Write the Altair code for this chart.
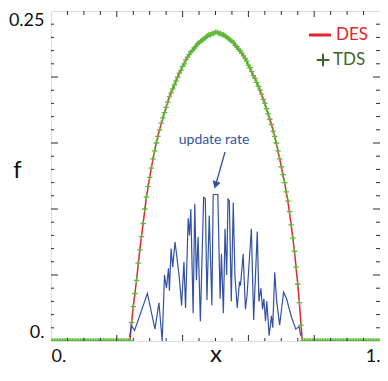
import altair as alt
import pandas as pd

# ---------------- data ----------------
# TDS markers on a regular 0.005 grid, x = 0 .. 1
TDS_X = [round(i * 0.005, 3) for i in range(201)]
TDS_LEFT = [0.0, 0.0, 0.0, 0.0, 0.0, 0.0, 0.0, 0.0, 0.0, 0.0, 0.0, 0.0,
            0.0, 0.0, 0.0, 0.0, 0.0, 0.0, 0.0, 0.0, 0.0, 0.0, 0.0, 0.0,
            0.0, 0.0, 0.0, 0.0, 0.0, 0.0, 0.0, 0.0, 0.0, 0.0, 0.0, 0.0,
            0.0, 0.0, 0.0, 0.0, 0.0, 0.0, 0.0, 0.0, 0.0, 0.0, 0.0, 0.0]
TDS_HUMP = [0.000, 0.014, 0.026, 0.036, 0.046, 0.059, 0.069, 0.079, 0.089, 0.100,
            0.109, 0.117, 0.124, 0.131, 0.138, 0.144, 0.150, 0.155, 0.160, 0.165,
            0.169, 0.173, 0.177, 0.181, 0.185, 0.188, 0.191, 0.194, 0.197, 0.200,
            0.203, 0.205, 0.208, 0.210, 0.213, 0.215, 0.217, 0.219, 0.220, 0.222,
            0.223, 0.225, 0.226, 0.227, 0.228, 0.229, 0.230, 0.231, 0.232, 0.232,
            0.233, 0.233, 0.234, 0.234, 0.233, 0.233, 0.232, 0.232, 0.231, 0.230,
            0.229, 0.228, 0.227, 0.226, 0.224, 0.223, 0.221, 0.220, 0.218, 0.216,
            0.214, 0.212, 0.209, 0.207, 0.204, 0.201, 0.199, 0.196, 0.193, 0.190,
            0.187, 0.183, 0.180, 0.176, 0.172, 0.168, 0.164, 0.159, 0.155, 0.150,
            0.144, 0.138, 0.132, 0.126, 0.120, 0.113, 0.106, 0.098, 0.088, 0.078,
            0.068, 0.056, 0.043, 0.029, 0.012, 0.000]
TDS_RIGHT = [0.0, 0.0, 0.0, 0.0, 0.0, 0.0, 0.0, 0.0, 0.0, 0.0, 0.0, 0.0,
             0.0, 0.0, 0.0, 0.0, 0.0, 0.0, 0.0, 0.0, 0.0, 0.0, 0.0, 0.0,
             0.0, 0.0, 0.0, 0.0, 0.0, 0.0, 0.0, 0.0, 0.0, 0.0, 0.0, 0.0,
             0.0, 0.0, 0.0, 0.0, 0.0, 0.0, 0.0, 0.0, 0.0, 0.0, 0.0]
TDS_Y = TDS_LEFT + TDS_HUMP + TDS_RIGHT

# DES curve
DES_X = [0.0, 0.24, 0.245, 0.25, 0.26, 0.27, 0.28, 0.29, 0.30, 0.31, 0.32, 0.33,
         0.34, 0.35, 0.36, 0.37, 0.38, 0.39, 0.40, 0.41, 0.42, 0.43, 0.44, 0.45,
         0.46, 0.47, 0.48, 0.49, 0.50, 0.51, 0.52, 0.53, 0.54, 0.55, 0.56, 0.57,
         0.58, 0.59, 0.60, 0.61, 0.62, 0.63, 0.64, 0.65, 0.66, 0.67, 0.68, 0.69,
         0.70, 0.71, 0.72, 0.73, 0.74, 0.75, 0.755, 0.76, 0.764, 1.0]
DES_Y = [0.0, 0.0, 0.014, 0.026, 0.046, 0.069, 0.089, 0.109, 0.124, 0.138, 0.150, 0.160,
         0.169, 0.177, 0.185, 0.191, 0.197, 0.203, 0.208, 0.213, 0.217, 0.220, 0.223, 0.226,
         0.228, 0.230, 0.232, 0.233, 0.234, 0.233, 0.232, 0.231, 0.229, 0.227, 0.224, 0.221,
         0.218, 0.214, 0.209, 0.204, 0.199, 0.193, 0.187, 0.180, 0.172, 0.164, 0.155, 0.144,
         0.132, 0.120, 0.106, 0.088, 0.068, 0.043, 0.029, 0.012, 0.0, 0.0]

# update rate (blue)
UPD_X = [0.239, 0.244, 0.254, 0.293, 0.316, 0.328, 0.338, 0.345, 0.351, 0.357, 0.360,
         0.365, 0.370, 0.377, 0.382, 0.390, 0.397, 0.404, 0.409, 0.417, 0.421, 0.425,
         0.432, 0.437, 0.442, 0.447, 0.454, 0.464, 0.469, 0.474, 0.481, 0.489, 0.493,
         0.507, 0.514, 0.518, 0.524, 0.529, 0.534, 0.538, 0.542, 0.548, 0.554, 0.559,
         0.566, 0.573, 0.576, 0.584, 0.591, 0.596, 0.609, 0.616, 0.627, 0.632, 0.638,
         0.643, 0.647, 0.652, 0.656, 0.663, 0.670, 0.674, 0.680, 0.686, 0.695, 0.707,
         0.716, 0.731, 0.744, 0.754, 0.759]
UPD_Y = [0.003, 0.012, 0.008, 0.036, 0.009, 0.029, 0.000, 0.050, 0.040, 0.055, 0.038,
         0.070, 0.056, 0.075, 0.065, 0.048, 0.027, 0.060, 0.025, 0.093, 0.080, 0.100,
         0.021, 0.104, 0.046, 0.079, 0.015, 0.109, 0.108, 0.031, 0.095, 0.027, 0.111,
         0.111, 0.032, 0.066, 0.021, 0.085, 0.050, 0.108, 0.106, 0.030, 0.105, 0.050,
         0.025, 0.045, 0.042, 0.066, 0.024, 0.035, 0.085, 0.016, 0.083, 0.030, 0.040,
         0.024, 0.032, 0.015, 0.030, 0.004, 0.019, 0.010, 0.052, 0.030, 0.012, 0.037,
         0.032, 0.018, 0.009, 0.011, 0.004]

# frame ticks
X_MAJOR = [0.2, 0.4, 0.6, 0.8]
X_MINOR = [0.05, 0.1, 0.15, 0.25, 0.3, 0.35, 0.45, 0.5, 0.55, 0.65, 0.7, 0.75,
           0.85, 0.9, 0.95]
Y_MAJOR = [0.05, 0.1, 0.15, 0.2]
Y_MINOR = [0.01, 0.02, 0.03, 0.04, 0.06, 0.07, 0.08, 0.09, 0.11, 0.12, 0.13, 0.14,
           0.16, 0.17, 0.18, 0.19, 0.21, 0.22, 0.23, 0.24]
X_LABEL_VALUES = [0, 1]
Y_LABEL_VALUES = [0, 0.25]

SERIES = ["DES", "TDS"]
ANNOTATION = "update rate"

# ---------------- chart ----------------
W, H = 329, 330
FONT = "Lato"
RED = "#e5242c"
GREEN = "#5cb83a"
DARKGREEN = "#3f6428"
BLUE = "#3452a3"
FRAME = "#2a2a2a"

xs = alt.Scale(domain=[0, 1], nice=False, zero=False)
ys = alt.Scale(domain=[0, 0.25], nice=False, zero=False)

tds_df = pd.DataFrame({"x": TDS_X, "y": TDS_Y})
des_df = pd.DataFrame({"x": DES_X, "y": DES_Y})
upd_df = pd.DataFrame({"x": UPD_X, "y": UPD_Y})

x_axis = alt.Axis(values=X_LABEL_VALUES, labelExpr="datum.value == 0 ? '0.' : '1.'",
                  tickSize=0, domain=False, grid=False, labelFlush=True,
                  labelPadding=6, labelFontSize=18, labelFont=FONT, labelColor="#111",
                  title="x", titleFont=FONT, titleFontSize=24, titleFontWeight="normal",
                  titleColor="#111", titleBaseline="alphabetic", titleY=20)
y_axis = alt.Axis(values=Y_LABEL_VALUES, labelExpr="datum.value == 0 ? '0.' : '0.25'",
                  tickSize=0, domain=False, grid=False, labelFlush=True,
                  labelPadding=7, labelFontSize=18, labelFont=FONT, labelColor="#111",
                  title="f", titleFont=FONT, titleFontSize=24, titleFontWeight="normal",
                  titleColor="#111", titleAngle=0, titleAlign="center",
                  titleBaseline="alphabetic", titleX=-34, titleY=166)

des = alt.Chart(des_df).mark_line(color=RED, strokeWidth=1.5, clip=True).encode(
    x=alt.X("x:Q", scale=xs, axis=x_axis),
    y=alt.Y("y:Q", scale=ys, axis=y_axis),
)
tds = alt.Chart(tds_df).mark_point(
    shape="M-1,0L1,0M0,-1L0,1", size=30, filled=False, color=GREEN,
    strokeWidth=1.3, opacity=1, clip=True
).encode(x=alt.X("x:Q", scale=xs), y=alt.Y("y:Q", scale=ys))
upd = alt.Chart(upd_df).mark_line(color=BLUE, strokeWidth=1.2, clip=True).encode(
    x=alt.X("x:Q", scale=xs), y=alt.Y("y:Q", scale=ys))


def xticks(vals, length, top):
    df = pd.DataFrame({"t": vals})
    if top:
        y0, y1 = 0, length
    else:
        y0, y1 = H, H - length
    return alt.Chart(df).mark_rule(color=FRAME, strokeWidth=1).encode(
        x=alt.X("t:Q", scale=xs), y=alt.value(y0), y2=alt.value(y1))


def yticks(vals, length, right):
    df = pd.DataFrame({"t": vals})
    if right:
        x0, x1 = W, W - length
    else:
        x0, x1 = 0, length
    return alt.Chart(df).mark_rule(color=FRAME, strokeWidth=1).encode(
        y=alt.Y("t:Q", scale=ys), x=alt.value(x0), x2=alt.value(x1))


ticks = [xticks(X_MAJOR, 6, False), xticks(X_MINOR, 3, False),
         xticks(X_MAJOR, 6, True), xticks(X_MINOR, 4, True),
         yticks(Y_MAJOR, 7, False), yticks(Y_MINOR, 3, False),
         yticks(Y_MAJOR, 7, True), yticks(Y_MINOR, 4, True)]

# legend
leg_df = pd.DataFrame({"s": SERIES})
leg_des_txt = alt.Chart(leg_df).transform_filter("datum.s == 'DES'").mark_text(
    align="left", baseline="middle", font=FONT, fontSize=17, color=RED
).encode(text="s:N", x=alt.value(285), y=alt.value(24))
leg_des_sym = alt.Chart(leg_df).transform_filter("datum.s == 'DES'").mark_rule(
    color=RED, strokeWidth=3
).encode(x=alt.value(258), x2=alt.value(280), y=alt.value(24))
leg_tds_txt = alt.Chart(leg_df).transform_filter("datum.s == 'TDS'").mark_text(
    align="left", baseline="middle", font=FONT, fontSize=17, color=DARKGREEN
).encode(text="s:N", x=alt.value(282), y=alt.value(49))
leg_tds_sym = alt.Chart(leg_df).transform_filter("datum.s == 'TDS'").mark_point(
    shape="M-1,0L1,0M0,-1L0,1", size=160, filled=False, color=DARKGREEN,
    strokeWidth=2, opacity=1
).encode(x=alt.value(272), y=alt.value(49))

# annotation
ann_df = pd.DataFrame({"t": [ANNOTATION]})
ann_txt = alt.Chart(ann_df).mark_text(
    align="center", baseline="middle", font=FONT, fontSize=14, color=BLUE
).encode(text="t:N", x=alt.value(163), y=alt.value(129))
ann_line = alt.Chart(ann_df).mark_rule(color=BLUE, strokeWidth=1.3).encode(
    x=alt.value(174), y=alt.value(141), x2=alt.value(165.5), y2=alt.value(171))
ann_head = alt.Chart(ann_df).mark_point(
    shape="triangle-down", size=70, filled=True, color=BLUE, opacity=1, angle=16
).encode(x=alt.value(164.6), y=alt.value(174))

chart = alt.layer(
    des, tds, upd, *ticks, leg_des_sym, leg_des_txt, leg_tds_sym, leg_tds_txt,
    ann_txt, ann_line, ann_head
).properties(
    width=W, height=H,
    autosize=alt.AutoSizeParams(type="none"),
    padding={"left": 43, "top": 3, "right": 0, "bottom": 26},
).configure_view(stroke=FRAME, strokeWidth=1.5).configure(background="white")

chart.save("out.html", embed_options={"renderer": "svg", "actions": False})
